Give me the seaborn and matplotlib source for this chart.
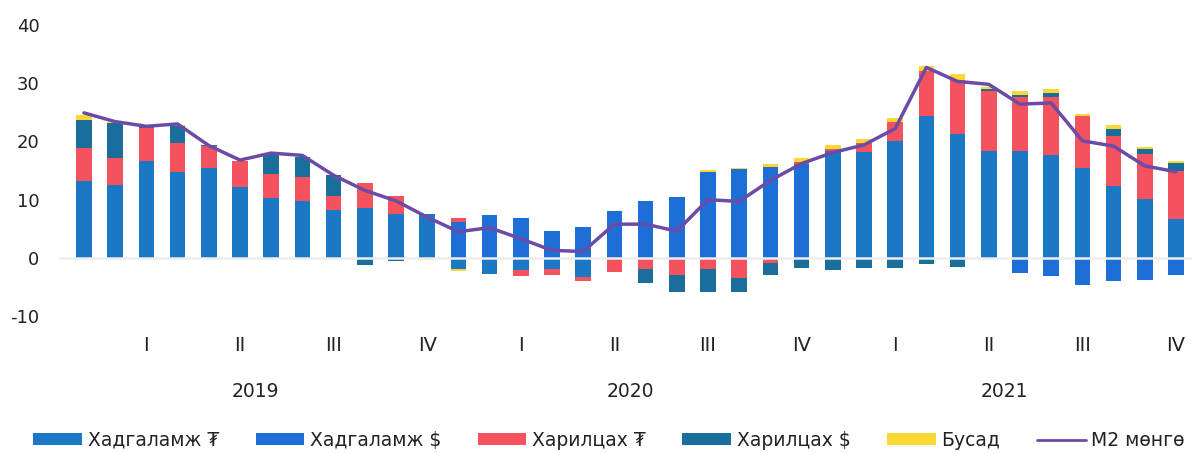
import numpy as np
import matplotlib
matplotlib.use("Agg")
import matplotlib.pyplot as plt
import matplotlib.transforms as mtransforms
from matplotlib.patches import Patch
from matplotlib.lines import Line2D
import seaborn as sns

# monthly categories 2019-01 .. 2021-12
months = [f"{y}-{m:02d}" for y in (2019, 2020, 2021) for m in range(1, 13)]
quarters = ["I", "II", "III", "IV"] * 3
years = ["2019", "2020", "2021"]

# contributions (percentage points)
hadg_mnt = [13.2, 12.5, 16.7, 14.8, 15.5, 12.2, 10.3, 9.8, 8.2, 8.5, 7.5, 7.5,
            -1.9, -2.7, -2.1, -1.9, -3.3, 0, 0, 0, 0, 0, 0, 0,
            18.4, 18.1, 20.1, 24.4, 21.3, 18.4, 18.4, 17.7, 15.5, 12.4, 10.1, 6.6]
hadg_usd = [0, 0, 0, 0, 0, 0, 0, 0, 0, 0, 0, 0,
            6.1, 7.4, 6.8, 4.6, 5.3, 8.0, 9.7, 10.5, 14.8, 15.2, 15.6, 16.1,
            0, 0, 0, 0, 0, 0, -2.5, -3.1, -4.6, -4.0, -3.8, -3.0]
har_mnt = [5.7, 4.6, 5.6, 5.0, 3.7, 4.5, 4.1, 4.1, 2.5, 4.3, 3.2, 0,
           0.7, 0, -1.0, -1.0, -0.7, -2.4, -1.9, -2.9, -1.9, -3.5, -0.9, 0.4,
           0.3, 1.7, 3.3, 7.7, 9.3, 10.3, 9.2, 10.0, 8.8, 8.5, 7.7, 8.4]
har_usd = [4.7, 6.1, 0.2, 2.9, 0.2, 0, 3.5, 3.5, 3.6, -1.2, -0.6, 0,
           0, 0, 0, 0, 0, 0, -2.4, -3.0, -3.9, -2.4, -2.0, -1.8,
           -2.0, -1.7, -1.8, -1.1, -1.5, 0.3, 0.4, 0.6, 0, 1.3, 0.9, 1.3]
busad = [0.9, 0.2, 0.1, 0.2, 0, 0, 0, 0, 0, 0, 0, -0.3,
         -0.4, 0, 0, 0, 0, 0, 0, 0, 0.3, 0.3, 0.5, 0.6,
         0.7, 0.7, 0.7, 0.9, 0.9, 0.3, 0.7, 0.7, 0.4, 0.6, 0.3, 0.4]
m2 = [24.9, 23.4, 22.6, 23.0, 19.3, 16.8, 18.0, 17.6, 14.2, 11.6, 9.8, 7.0,
      4.5, 5.2, 3.3, 1.3, 1.1, 5.8, 5.8, 4.6, 10.0, 9.7, 13.3, 16.2,
      18.1, 19.4, 22.2, 32.7, 30.3, 29.8, 26.4, 26.6, 20.1, 19.2, 15.8, 14.8]

series = [
    ("Хадгаламж ₮", hadg_mnt, "#1a78c4"),
    ("Хадгаламж $", hadg_usd, "#1d6ed6"),
    ("Харилцах ₮", har_mnt, "#f4525e"),
    ("Харилцах $", har_usd, "#1a6e9c"),
    ("Бусад", busad, "#fdd835"),
]
line_color = "#6a4ca6"
text_color = "#222222"

sns.set_style("white")
plt.rcParams["font.family"] = ["DejaVu Sans"]
plt.rcParams["axes.unicode_minus"] = False

fig, ax = plt.subplots(figsize=(11.99, 4.53), dpi=100)

pos_bottom = np.zeros(len(months))
neg_bottom = np.zeros(len(months))
for name, vals, col in series:
    vals = np.array(vals, dtype=float)
    pos = np.where(vals > 0, vals, 0)
    neg = np.where(vals < 0, vals, 0)
    sns.barplot(x=months, y=pos, bottom=pos_bottom, color=col, width=0.5,
                saturation=1, linewidth=0, errorbar=None, ax=ax)
    sns.barplot(x=months, y=neg, bottom=neg_bottom, color=col, width=0.5,
                saturation=1, linewidth=0, errorbar=None, ax=ax)
    pos_bottom += pos
    neg_bottom += neg

ax.axhline(0, color="#ededed", lw=1.8, zorder=1.5)
sns.lineplot(x=months, y=m2, color=line_color, lw=2.5, ax=ax, zorder=3)

ax.set_xlim(-0.8, 35.5)
ax.set_ylim(-10, 40)
ax.set_yticks([-10, 0, 10, 20, 30, 40])
ax.set_xticks(range(2, 36, 3))
ax.set_xticklabels(quarters)
ax.set_xlabel("")
ax.set_ylabel("")
ax.tick_params(axis="both", length=0, labelsize=13, colors=text_color)
ax.tick_params(axis="y", pad=14)
ax.tick_params(axis="x", pad=14, labelsize=14)
sns.despine(ax=ax, left=True, bottom=True)

trans = mtransforms.blended_transform_factory(ax.transData, ax.transAxes)
for i, y in enumerate(years):
    ax.text(5.5 + 12 * i, -0.26, y, transform=trans, ha="center", va="center",
            fontsize=13.5, color=text_color)

handles = [Patch(facecolor=c, edgecolor="none", label=n) for n, _, c in series]
handles.append(Line2D([0], [0], color=line_color, lw=2, label="М2 мөнгө"))
fig.legend(handles=handles, loc="center", bbox_to_anchor=(0.508, 0.028), ncol=6,
           frameon=False, fontsize=13.5, handlelength=2.6, handleheight=0.6,
           handletextpad=0.3, columnspacing=1.95, labelcolor=text_color)

fig.subplots_adjust(left=0.0492, right=0.9938, top=0.945, bottom=0.302)
fig.savefig("out.png", dpi=100)
